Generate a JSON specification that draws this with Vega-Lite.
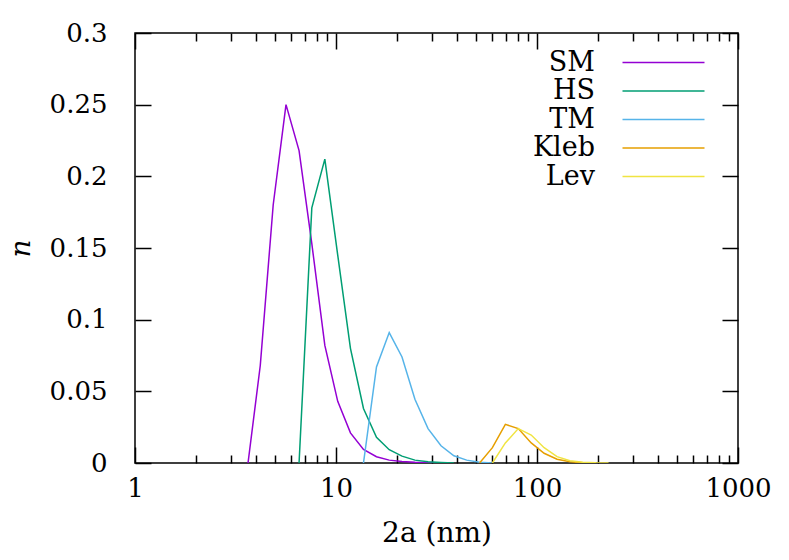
{
  "$schema": "https://vega.github.io/schema/vega-lite/v6.json",
  "autosize": "none",
  "padding": {"left": 135, "top": 33, "right": 51, "bottom": 97},
  "width": 603,
  "height": 430,
  "background": "white",
  "config": {
    "view": {"stroke": "black", "strokeWidth": 1.5},
    "font": "DejaVu Serif",
    "axis": {
      "domain": false,
      "grid": false,
      "tickColor": "black",
      "tickWidth": 1.5,
      "labelFont": "DejaVu Serif",
      "labelFontSize": 26,
      "labelColor": "black",
      "titleFont": "DejaVu Serif",
      "titleFontSize": 28,
      "titleFontWeight": "normal",
      "titleColor": "black",
      "labelFlush": false,
      "labelOverlap": false
    },
    "legend": {
      "labelFont": "DejaVu Serif",
      "labelFontSize": 27,
      "labelColor": "black"
    }
  },
  "data": {
    "values": [
      {"d": 3.65, "n": 0, "s": "SM"},
      {"d": 4.2, "n": 0.068, "s": "SM"},
      {"d": 4.87, "n": 0.18, "s": "SM"},
      {"d": 5.64, "n": 0.25, "s": "SM"},
      {"d": 6.55, "n": 0.218, "s": "SM"},
      {"d": 7.58, "n": 0.153, "s": "SM"},
      {"d": 8.8, "n": 0.082, "s": "SM"},
      {"d": 10.2, "n": 0.043, "s": "SM"},
      {"d": 11.8, "n": 0.021, "s": "SM"},
      {"d": 13.7, "n": 0.0095, "s": "SM"},
      {"d": 15.9, "n": 0.0044, "s": "SM"},
      {"d": 18.4, "n": 0.002, "s": "SM"},
      {"d": 21.3, "n": 0.001, "s": "SM"},
      {"d": 24.7, "n": 0.0005, "s": "SM"},
      {"d": 28.7, "n": 0.0002, "s": "SM"},
      {"d": 33.3, "n": 0, "s": "SM"},
      {"d": 6.55, "n": 0, "s": "HS"},
      {"d": 7.58, "n": 0.178, "s": "HS"},
      {"d": 8.8, "n": 0.212, "s": "HS"},
      {"d": 10.2, "n": 0.145, "s": "HS"},
      {"d": 11.8, "n": 0.08, "s": "HS"},
      {"d": 13.7, "n": 0.038, "s": "HS"},
      {"d": 15.9, "n": 0.018, "s": "HS"},
      {"d": 18.4, "n": 0.0093, "s": "HS"},
      {"d": 21.3, "n": 0.0048, "s": "HS"},
      {"d": 24.7, "n": 0.002, "s": "HS"},
      {"d": 28.7, "n": 0.0008, "s": "HS"},
      {"d": 33.3, "n": 0.0003, "s": "HS"},
      {"d": 38.6, "n": 0, "s": "HS"},
      {"d": 13.7, "n": 0, "s": "TM"},
      {"d": 15.9, "n": 0.067, "s": "TM"},
      {"d": 18.4, "n": 0.091, "s": "TM"},
      {"d": 21.3, "n": 0.074, "s": "TM"},
      {"d": 24.7, "n": 0.0445, "s": "TM"},
      {"d": 28.7, "n": 0.024, "s": "TM"},
      {"d": 33.3, "n": 0.012, "s": "TM"},
      {"d": 38.6, "n": 0.005, "s": "TM"},
      {"d": 44.7, "n": 0.002, "s": "TM"},
      {"d": 51.8, "n": 0.0005, "s": "TM"},
      {"d": 60, "n": 0, "s": "TM"},
      {"d": 51.8, "n": 0, "s": "Kleb"},
      {"d": 60, "n": 0.0107, "s": "Kleb"},
      {"d": 69.6, "n": 0.027, "s": "Kleb"},
      {"d": 80.7, "n": 0.024, "s": "Kleb"},
      {"d": 93.6, "n": 0.014, "s": "Kleb"},
      {"d": 108.5, "n": 0.0068, "s": "Kleb"},
      {"d": 125.8, "n": 0.0026, "s": "Kleb"},
      {"d": 145.9, "n": 0.0008, "s": "Kleb"},
      {"d": 169, "n": 0.0002, "s": "Kleb"},
      {"d": 196, "n": 0, "s": "Kleb"},
      {"d": 60, "n": 0, "s": "Lev"},
      {"d": 69.6, "n": 0.014, "s": "Lev"},
      {"d": 80.7, "n": 0.024, "s": "Lev"},
      {"d": 93.6, "n": 0.0195, "s": "Lev"},
      {"d": 108.5, "n": 0.0107, "s": "Lev"},
      {"d": 125.8, "n": 0.0044, "s": "Lev"},
      {"d": 145.9, "n": 0.0016, "s": "Lev"},
      {"d": 169, "n": 0.0005, "s": "Lev"},
      {"d": 196, "n": 0.0001, "s": "Lev"},
      {"d": 227, "n": 0, "s": "Lev"}
    ]
  },
  "layer": [
    {
      "mark": {"type": "line", "strokeWidth": 1.5, "clip": true},
      "encoding": {
        "x": {
          "field": "d",
          "type": "quantitative",
          "scale": {"type": "log", "domain": [1, 1000], "nice": false},
          "axis": {
            "orient": "bottom",
            "title": "2a (nm)",
            "titlePadding": 10,
            "values": [1, 2, 3, 4, 5, 6, 7, 8, 9, 10, 20, 30, 40, 50, 60, 70, 80, 90, 100, 200, 300, 400, 500, 600, 700, 800, 900, 1000],
            "format": "d",
            "labelExpr": "indexof([1, 10, 100, 1000], datum.value) >= 0 ? datum.label : ''",
            "tickSize": {"condition": {"test": "indexof([1, 10, 100, 1000], datum.value) >= 0", "value": -16}, "value": -8},
            "labelPadding": 28
          }
        },
        "y": {
          "field": "n",
          "type": "quantitative",
          "scale": {"domain": [0, 0.3], "nice": false},
          "axis": {
            "orient": "left",
            "title": "n",
            "titleFontStyle": "italic",
            "titlePadding": 14,
            "values": [0, 0.05, 0.1, 0.15, 0.2, 0.25, 0.3],
            "format": "~g",
            "tickSize": -16,
            "labelPadding": 44
          }
        },
        "color": {
          "field": "s",
          "type": "nominal",
          "scale": {
            "domain": ["SM", "HS", "TM", "Kleb", "Lev"],
            "range": ["#9400d3", "#009e73", "#56b4e9", "#e69f00", "#f0e442"]
          },
          "legend": {
            "title": null,
            "orient": "none",
            "legendX": 515,
            "legendY": 16,
            "padding": 0,
            "symbolType": "M-5,0L5,0",
            "symbolSize": 269,
            "symbolStrokeWidth": 1.5,
            "labelAlign": "right",
            "labelOffset": -82,
            "rowPadding": 0.5
          }
        }
      }
    },
    {
      "mark": {"type": "point", "opacity": 0},
      "encoding": {
        "x": {
          "field": "d",
          "type": "quantitative",
          "axis": {
            "orient": "top",
            "title": null,
            "labels": false,
            "values": [1, 2, 3, 4, 5, 6, 7, 8, 9, 10, 20, 30, 40, 50, 60, 70, 80, 90, 100, 200, 300, 400, 500, 600, 700, 800, 900, 1000],
            "tickSize": {"condition": {"test": "indexof([1, 10, 100, 1000], datum.value) >= 0", "value": -16}, "value": -8}
          }
        },
        "y": {
          "field": "n",
          "type": "quantitative",
          "axis": {
            "orient": "right",
            "title": null,
            "labels": false,
            "values": [0, 0.05, 0.1, 0.15, 0.2, 0.25, 0.3],
            "tickSize": -16
          }
        }
      }
    }
  ],
  "resolve": {"axis": {"x": "independent", "y": "independent"}}
}
